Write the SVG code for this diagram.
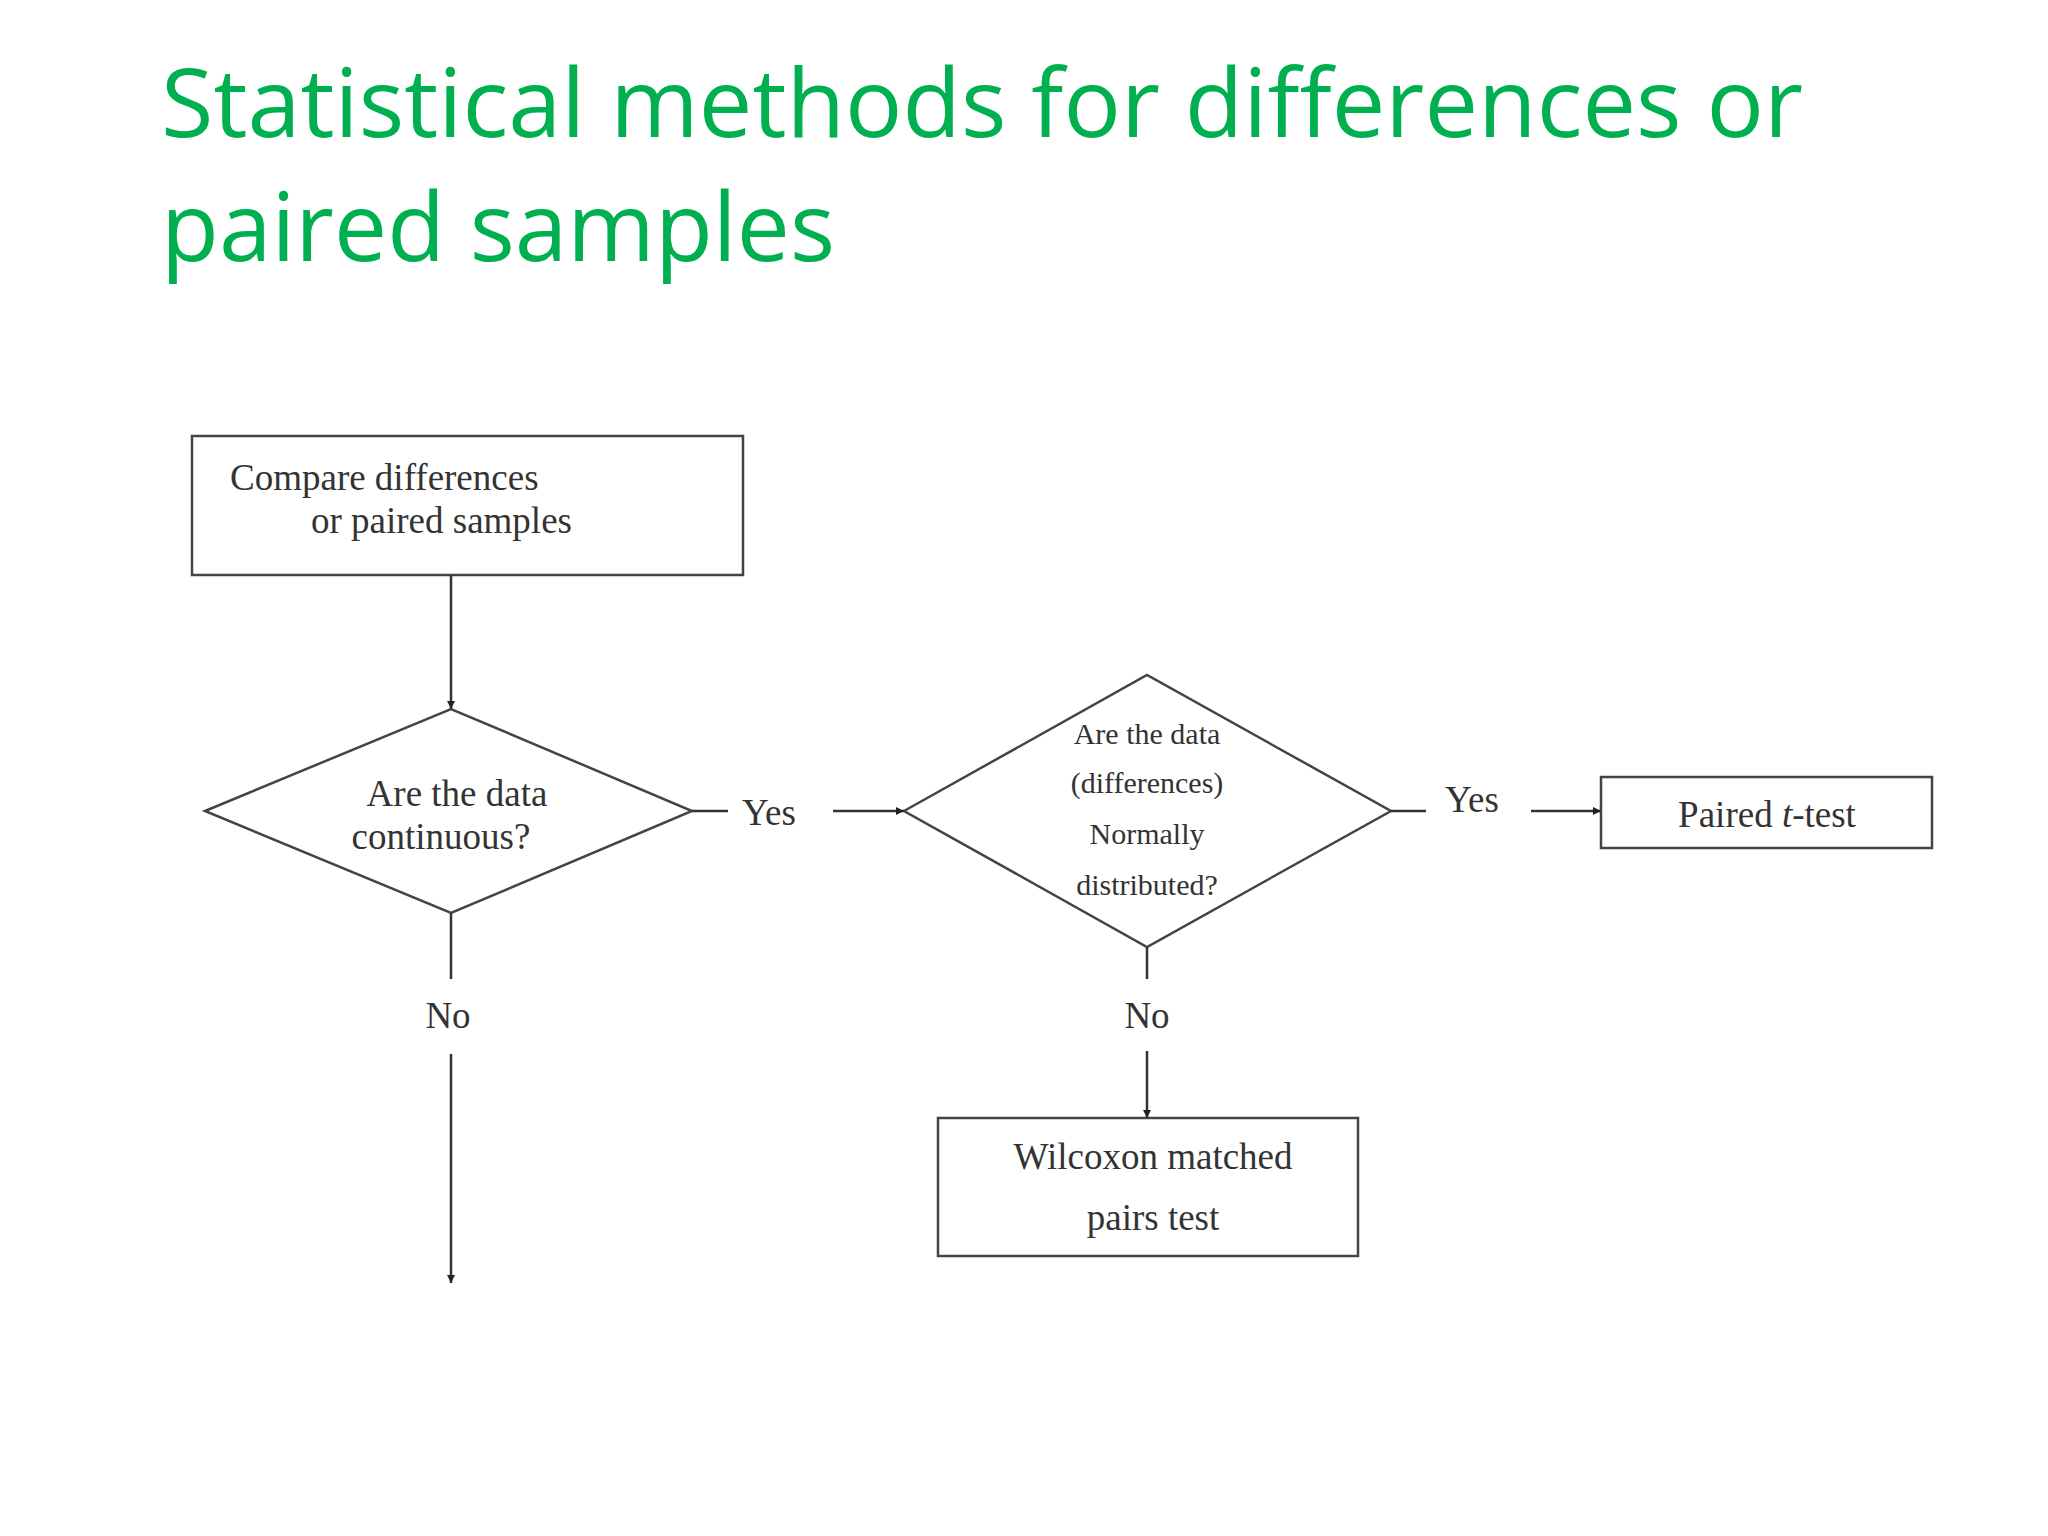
<svg xmlns="http://www.w3.org/2000/svg" width="2048" height="1536" viewBox="0 0 2048 1536">
<defs>
<marker id="ah" viewBox="0 0 10 10" refX="10" refY="5" markerWidth="8" markerHeight="8" markerUnits="userSpaceOnUse" orient="auto"><path d="M0,0 L10,5 L0,10 z" fill="#222"/></marker>
<style>
.n{fill:#fff;stroke:#444;stroke-width:2.5}
.t{font-family:"Liberation Serif",serif;font-size:37px;fill:#333;text-anchor:middle}
.s{font-size:30px}
.c{stroke:#333;stroke-width:2.5;fill:none}
.a{marker-end:url(#ah)}
.ti{font-family:"Open Sans","Liberation Sans",sans-serif;font-size:96px;fill:#00b050}
</style>
</defs>
<rect width="2048" height="1536" fill="#fff"/>
<g id="title">
<text class="ti" x="161" y="137" textLength="1642" lengthAdjust="spacingAndGlyphs">Statistical methods for differences or</text>
<text class="ti" x="161" y="261" textLength="674" lengthAdjust="spacingAndGlyphs">paired samples</text>
</g>
<g id="start"><rect class="n" x="192" y="436" width="551" height="139"/>
<text class="t" x="230" y="490" style="text-anchor:start">Compare differences</text>
<text class="t" x="311" y="533" style="text-anchor:start">or paired samples</text></g>
<g id="d1"><polygon class="n" points="205,811 451,709 692,811 451,913"/>
<text class="t" x="457" y="806">Are the data</text>
<text class="t" x="441" y="849">continuous?</text></g>
<g id="d2"><polygon class="n" points="904,811 1147,675 1391,811 1147,947"/>
<text class="t s" x="1147" y="744">Are the data</text>
<text class="t s" x="1147" y="793">(differences)</text>
<text class="t s" x="1147" y="844">Normally</text>
<text class="t s" x="1147" y="895">distributed?</text></g>
<g id="paired"><rect class="n" x="1601" y="777" width="331" height="71"/>
<text class="t" x="1767" y="827">Paired <tspan font-style="italic">t</tspan>-test</text></g>
<g id="wilcoxon"><rect class="n" x="938" y="1118" width="420" height="138"/>
<text class="t" x="1153" y="1169">Wilcoxon matched</text>
<text class="t" x="1153" y="1230">pairs test</text></g>
<g id="connectors">
<line class="c a" x1="451" y1="575" x2="451" y2="709"/>
<line class="c" x1="692" y1="811" x2="728" y2="811"/>
<text class="t" x="769" y="825">Yes</text>
<line class="c a" x1="833" y1="811" x2="904" y2="811"/>
<line class="c" x1="1391" y1="811" x2="1426" y2="811"/>
<text class="t" x="1472" y="812">Yes</text>
<line class="c a" x1="1531" y1="811" x2="1601" y2="811"/>
<line class="c" x1="1147" y1="947" x2="1147" y2="979"/>
<text class="t" x="1147" y="1028">No</text>
<line class="c a" x1="1147" y1="1051" x2="1147" y2="1118"/>
<line class="c" x1="451" y1="913" x2="451" y2="979"/>
<text class="t" x="448" y="1028">No</text>
<line class="c a" x1="451" y1="1054" x2="451" y2="1283"/>
</g>
</svg>
